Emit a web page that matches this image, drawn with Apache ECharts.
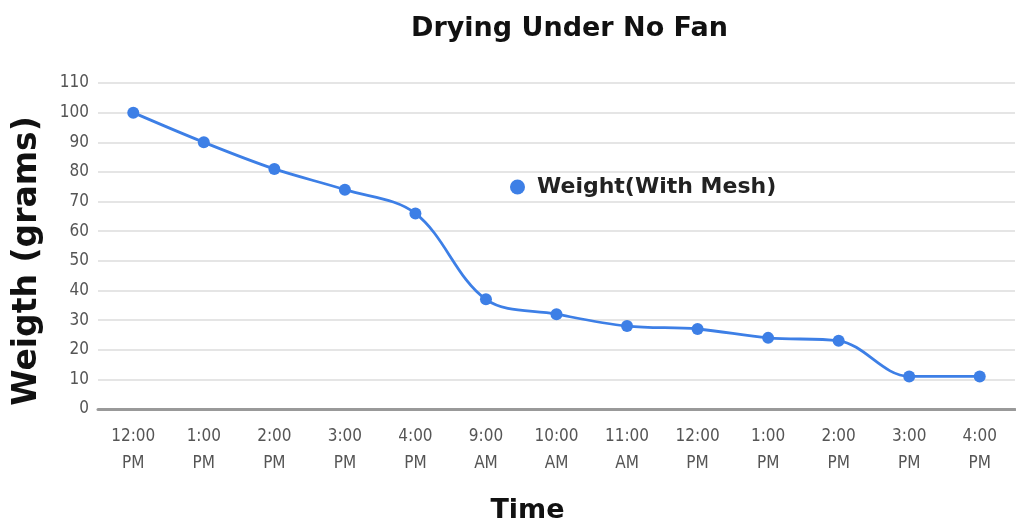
<!DOCTYPE html>
<html>
<head>
<meta charset="utf-8">
<style>
  html, body { margin: 0; padding: 0; background: #fff; }
  #chart { width: 1016px; height: 529px; }
</style>
<script src="https://cdn.jsdelivr.net/npm/echarts@6/dist/echarts.min.js"></script>
</head>
<body>
<div id="chart"></div>
<script>
// Time of each weighing (two-line labels)
const times = [
  '12:00\nPM', '1:00\nPM', '2:00\nPM', '3:00\nPM', '4:00\nPM',
  '9:00\nAM', '10:00\nAM', '11:00\nAM', '12:00\nPM', '1:00\nPM',
  '2:00\nPM', '3:00\nPM', '4:00\nPM'
];
// Weight in grams at each time
const weightWithMesh = [100, 90, 81, 74, 66, 37, 32, 28, 27, 24, 23, 11, 11];
const seriesName = 'Weight(With Mesh)';

const boldFont = 'DejaVu Sans';
const tickFont = 'DejaVu Sans Condensed, DejaVu Sans';
const blue = '#3d7fe6';

const chart = echarts.init(document.getElementById('chart'), null, { renderer: 'canvas' });
chart.setOption({
  animation: false,
  backgroundColor: '#ffffff',
  title: {
    text: 'Drying Under No Fan',
    left: 406,
    top: 10,
    textStyle: { fontFamily: boldFont, fontWeight: 'bold', fontSize: 27, color: '#111' }
  },
  legend: {
    data: [seriesName],
    left: 505,
    top: 171,
    icon: 'circle',
    itemWidth: 15,
    itemHeight: 15,
    textStyle: {
      fontFamily: boldFont, fontWeight: 'bold', fontSize: 22, color: '#222',
      padding: [0, 0, 0, 7]
    }
  },
  grid: { left: 98, right: 1, top: 83, bottom: 120 },
  xAxis: {
    type: 'category',
    data: times,
    boundaryGap: true,
    name: 'Time',
    nameLocation: 'middle',
    nameGap: 88,
    nameTextStyle: {
      fontFamily: boldFont, fontWeight: 'bold', fontSize: 27, color: '#111',
      padding: [0, 58, 0, 0]
    },
    axisLine: { lineStyle: { color: '#999', width: 3 } },
    axisTick: { show: false },
    axisLabel: {
      fontFamily: tickFont, fontSize: 17, color: '#555', lineHeight: 27, margin: 14
    }
  },
  yAxis: {
    type: 'value',
    min: 0,
    max: 110,
    interval: 10,
    name: 'Weigth (grams)',
    nameLocation: 'middle',
    nameGap: 54,
    nameTextStyle: {
      fontFamily: boldFont, fontWeight: 'bold', fontSize: 33, color: '#111',
      padding: [0, 30, 0, 0]
    },
    axisLine: { show: false },
    axisTick: { show: false },
    axisLabel: { fontFamily: tickFont, fontSize: 17, color: '#555', margin: 9 },
    splitLine: { lineStyle: { color: '#dddddd', width: 1.5 } }
  },
  series: [{
    name: seriesName,
    type: 'line',
    data: weightWithMesh,
    smooth: 0.35,
    symbol: 'circle',
    symbolSize: 12,
    itemStyle: { color: blue },
    lineStyle: { color: blue, width: 2.8 }
  }]
});
</script>
</body>
</html>
